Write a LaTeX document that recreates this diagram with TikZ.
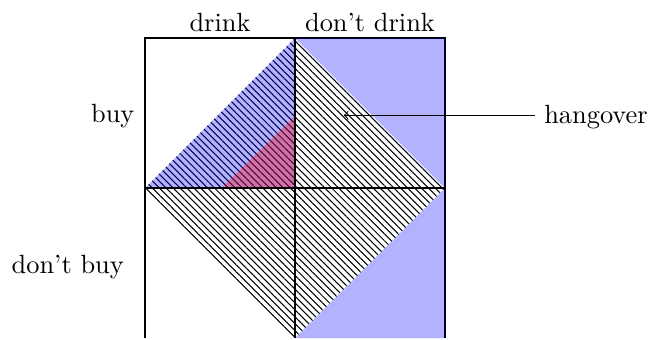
\documentclass[tikz,border=0pt]{standalone}
\usetikzlibrary{patterns.meta}

\begin{document}
\begin{tikzpicture}[
        frame/.style   = {thick},
        hatch/.style   = {pattern={Lines[angle=-45, distance=1.85pt, line width=0.4pt]}, pattern color=black},
        shade/.style   = {fill=blue, fill opacity=0.3},
        overlap/.style = {fill=red, fill opacity=0.35},
        arrow/.style   = {->, thin},
    ]
    \useasboundingbox (-1.933,-0.013) rectangle (6.733,4.507);

    %---- outer frame ----
    \draw[frame] (0,0) -- (0,4) -- (4,4) -- (4,0);

    %---- hangover diamond ----
    \fill[hatch] (2,4) -- (4,2) -- (2,0) -- (0,2) -- cycle;

    %---- shaded regions ----
    \fill[shade] (0,2) -- (2,4) -- (2,2) -- cycle;
    \fill[shade] (2,4) -- (4,4) -- (4,2) -- cycle;
    \fill[shade] (2,0) -- (4,0) -- (4,2) -- cycle;
    \fill[overlap] (1.02,2) -- (2,2.96) -- (2,2) -- cycle;

    %---- quadrant lines ----
    \draw[frame] (2,0) -- (2,4);
    \draw[frame] (0,2) -- (4,2);

    %---- labels ----
    \node[anchor=base] (drink) at (1,4.09) {drink};
    \node[anchor=base] (nodrink) at (3,4.09) {don't drink};
    \node[anchor=base] (buy) at (-0.43,2.87) {buy};
    \node[anchor=base] (nobuy) at (-1.03,0.86) {don't buy};
    \coordinate (hang) at (2.65,2.97);
    \node[anchor=base west] (hangover) at (5.2,2.86) {hangover};
    \draw[arrow] (hang -| hangover.west) -- (hang);
\end{tikzpicture}
\end{document}
